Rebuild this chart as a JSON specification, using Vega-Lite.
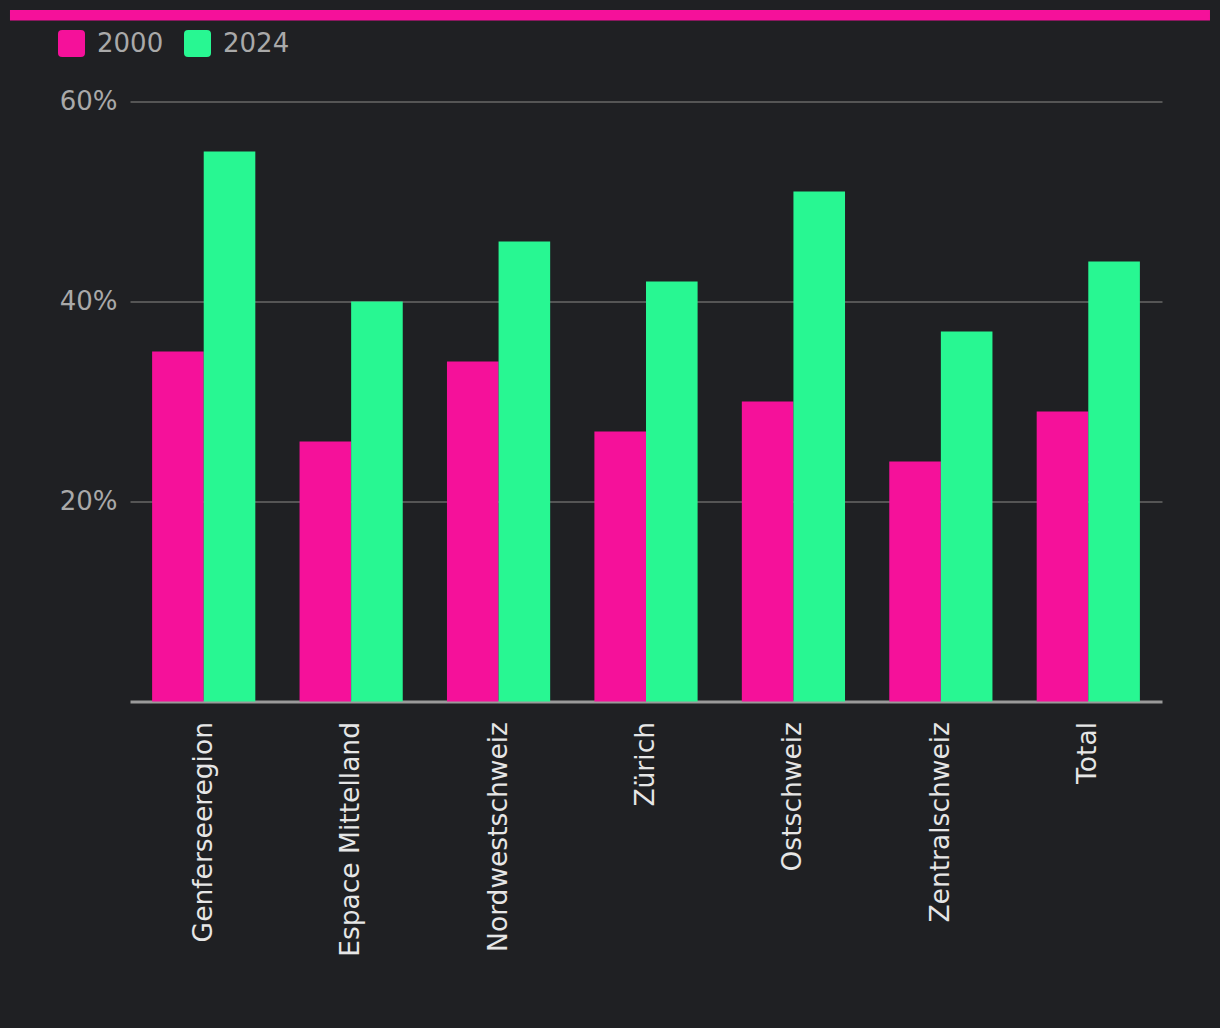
{
  "$schema": "https://vega.github.io/schema/vega-lite/v6.json",
  "width": 1032,
  "height": 600,
  "autosize": {"type": "none"},
  "padding": {"left": 130, "top": 101.5, "right": 58, "bottom": 326.5},
  "background": "#1f2023",
  "config": {"view": {"stroke": null}, "font": "DejaVu Sans"},
  "layer": [
    {
      "data": {
        "values": [
          {"region": "Genferseeregion", "year": "2000", "value": 35},
          {"region": "Genferseeregion", "year": "2024", "value": 55},
          {"region": "Espace Mittelland", "year": "2000", "value": 26},
          {"region": "Espace Mittelland", "year": "2024", "value": 40},
          {"region": "Nordwestschweiz", "year": "2000", "value": 34},
          {"region": "Nordwestschweiz", "year": "2024", "value": 46},
          {"region": "Zürich", "year": "2000", "value": 27},
          {"region": "Zürich", "year": "2024", "value": 42},
          {"region": "Ostschweiz", "year": "2000", "value": 30},
          {"region": "Ostschweiz", "year": "2024", "value": 51},
          {"region": "Zentralschweiz", "year": "2000", "value": 24},
          {"region": "Zentralschweiz", "year": "2024", "value": 37},
          {"region": "Total", "year": "2000", "value": 29},
          {"region": "Total", "year": "2024", "value": 44}
        ]
      },
      "mark": {"type": "bar"},
      "encoding": {
        "x": {
          "field": "region",
          "type": "nominal",
          "sort": null,
          "scale": {"paddingInner": 0.3, "paddingOuter": 0.15},
          "axis": {
            "title": null,
            "labelAngle": -90,
            "labelFontSize": 26.5,
            "labelColor": "#e6e6e6",
            "labelPadding": 20,
            "labelLimit": 0,
            "ticks": false,
            "grid": false,
            "domainColor": "#9a9a9a",
            "domainWidth": 3
          }
        },
        "xOffset": {"field": "year", "type": "nominal", "scale": {"paddingInner": 0}},
        "y": {
          "field": "value",
          "type": "quantitative",
          "scale": {"domain": [0, 60]},
          "axis": {
            "title": null,
            "values": [20, 40, 60],
            "labelExpr": "datum.value + '%'",
            "domain": false,
            "ticks": false,
            "gridColor": "#555555",
            "gridWidth": 2,
            "labelFontSize": 26,
            "labelColor": "#a9a9a9",
            "labelPadding": 13
          }
        },
        "color": {
          "field": "year",
          "type": "nominal",
          "scale": {"domain": ["2000", "2024"], "range": ["#f5119a", "#28f792"]},
          "legend": {
            "title": null,
            "orient": "none",
            "legendX": -72,
            "legendY": -71.5,
            "direction": "horizontal",
            "padding": 0,
            "labelFontSize": 26,
            "labelColor": "#a9a9a9",
            "labelOffset": 12,
            "columnPadding": 20,
            "symbolSize": 729,
            "symbolStrokeWidth": 0,
            "symbolOpacity": 1,
            "symbolType": "M-0.7,-1H0.7Q1,-1 1,-0.7V0.7Q1,1 0.7,1H-0.7Q-1,1 -1,0.7V-0.7Q-1,-1 -0.7,-1Z"
          }
        }
      }
    },
    {
      "data": {"values": [{}]},
      "mark": {"type": "rect", "color": "#f5119a", "clip": false},
      "encoding": {
        "x": {"datum": -11.63, "type": "quantitative", "scale": {"domain": [0, 100]}, "axis": null},
        "x2": {"datum": 104.65},
        "y": {"datum": 68.1, "type": "quantitative"},
        "y2": {"datum": 69.15}
      }
    }
  ],
  "resolve": {"scale": {"x": "independent"}}
}
